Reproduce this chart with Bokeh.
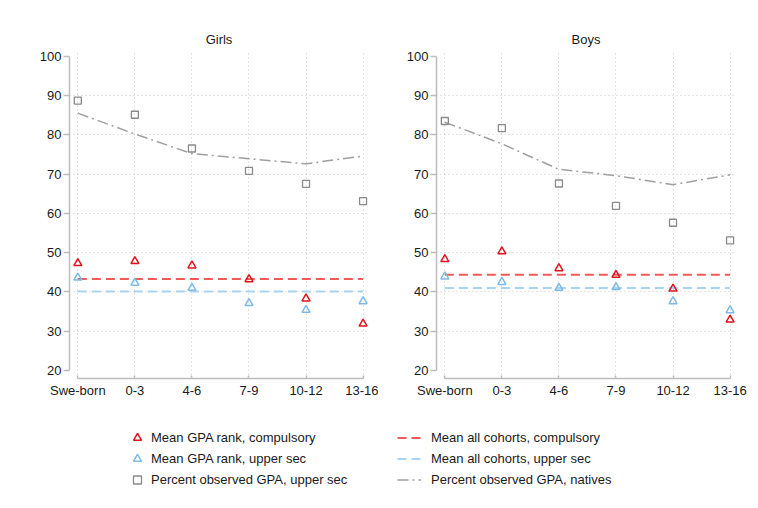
import numpy as np
from bokeh.plotting import figure
from bokeh.models import FixedTicker, Legend, LegendItem, Range1d, ColumnDataSource
from bokeh.layouts import row, column
from bokeh.embed import file_html
from bokeh.resources import INLINE

cohorts = ["Swe-born", "0-3", "4-6", "7-9", "10-12", "13-16"]
y_ticks = [20, 30, 40, 50, 60, 70, 80, 90, 100]

girls_rank_comp = [47.3, 47.8, 46.7, 43.2, 38.3, 31.9]
girls_rank_upper = [43.6, 42.3, 41.0, 37.1, 35.4, 37.6]
girls_pct_obs = [88.7, 85.1, 76.5, 70.8, 67.5, 63.1]
girls_pct_natives = [85.5, 80.2, 75.2, 73.9, 72.6, 74.6]
girls_mean_comp = 43.3
girls_mean_upper = 40.1

boys_rank_comp = [48.3, 50.3, 46.0, 44.3, 40.8, 32.9]
boys_rank_upper = [43.9, 42.5, 41.0, 41.2, 37.6, 35.3]
boys_pct_obs = [83.5, 81.7, 67.6, 61.9, 57.6, 53.1]
boys_pct_natives = [83.2, 77.7, 71.2, 69.6, 67.3, 69.8]
boys_mean_comp = 44.4
boys_mean_upper = 41.0

RED = "#e0141e"
BLUE = "#7dbbe6"
GRAY = "#8a8a8a"
RED_LINE = "#f25a5a"
BLUE_LINE = "#a8d4f0"
GRAY_LINE = "#a0a0a0"
FONT = "Liberation Sans"
TXT = "#1a1a1a"
AXC = "#bdbdbd"

xs = list(range(len(cohorts)))


def panel(title, comp, upper, obs, natives, mcomp, mupper, width, bl, br):
    p = figure(width=width, height=405, output_backend="svg", toolbar_location=None,
               x_range=Range1d(-0.146, 5.095), y_range=Range1d(17.96, 101.45),
               min_border_left=bl, min_border_right=br, min_border_top=50,
               min_border_bottom=27, title=title)
    p.outline_line_color = None
    p.title.align = "center"
    p.title.text_font = FONT
    p.title.text_font_size = "13px"
    p.title.text_font_style = "normal"
    p.title.text_color = TXT
    p.title.standoff = 7

    p.xaxis.ticker = FixedTicker(ticks=xs)
    p.xaxis.major_label_overrides = {i: c for i, c in enumerate(cohorts)}
    p.xaxis.bounds = (0, 5)
    p.xaxis.major_tick_in = 3
    p.xaxis.major_tick_out = 0
    p.xaxis.major_label_standoff = 4
    p.yaxis.ticker = FixedTicker(ticks=y_ticks)
    p.yaxis.bounds = (20, 100)
    p.yaxis.major_tick_in = 0
    p.yaxis.major_tick_out = 6
    p.yaxis.major_label_standoff = 2
    for ax in (p.xaxis, p.yaxis):
        ax.axis_line_color = AXC
        ax.axis_line_width = 1.5
        ax.major_tick_line_color = AXC
        ax.major_tick_line_width = 1.5
        ax.minor_tick_line_color = None
        ax.major_label_text_font = FONT
        ax.major_label_text_font_size = "13px"
        ax.major_label_text_color = TXT

    p.xgrid.ticker = FixedTicker(ticks=xs)
    p.ygrid.ticker = FixedTicker(ticks=y_ticks[1:-1])
    for g in (p.xgrid, p.ygrid):
        g.grid_line_color = "#c8c8c8"
        g.grid_line_dash = "1 3"
        g.grid_line_width = 1

    p.line(xs, natives, line_color=GRAY_LINE, line_width=1.5, line_dash="11 4 2 4")
    p.line(xs, [mcomp] * len(xs), line_color=RED_LINE, line_width=2, line_dash="9 5")
    p.line(xs, [mupper] * len(xs), line_color=BLUE_LINE, line_width=2, line_dash="9 5")
    p.scatter(xs, obs, marker="square", size=7, fill_color=None, line_color=GRAY, line_width=1.3)
    p.scatter(xs, upper, marker="triangle", size=8, fill_color=None, line_color=BLUE, line_width=1.5)
    p.scatter(xs, comp, marker="triangle", size=8, fill_color=None, line_color=RED, line_width=1.5)
    return p


pg = panel("Girls", girls_rank_comp, girls_rank_upper, girls_pct_obs, girls_pct_natives,
           girls_mean_comp, girls_mean_upper, 378, 69, 10)
pb = panel("Boys", boys_rank_comp, boys_rank_upper, boys_pct_obs, boys_pct_natives,
           boys_mean_comp, boys_mean_upper, 372, 58, 15)

lf = figure(width=750, height=95, output_backend="svg", toolbar_location=None,
            x_range=Range1d(0, 1), y_range=Range1d(0, 1),
            min_border=0, min_border_left=0, min_border_right=0,
            min_border_top=0, min_border_bottom=0)
lf.outline_line_color = None
lf.xaxis.visible = False
lf.yaxis.visible = False
lf.grid.visible = False
# legend-only renderers, placed outside the visible range
dummy = ColumnDataSource(data=dict(x=[-5, -4], y=[-5, -4]))
r1 = lf.scatter("x", "y", source=dummy, marker="triangle", size=8, fill_color=None, line_color=RED, line_width=1.5)
r2 = lf.scatter("x", "y", source=dummy, marker="triangle", size=8, fill_color=None, line_color=BLUE, line_width=1.5)
r3 = lf.scatter("x", "y", source=dummy, marker="square", size=7, fill_color=None, line_color=GRAY, line_width=1.3)
r4 = lf.line("x", "y", source=dummy, line_color=RED_LINE, line_width=2, line_dash="9 5")
r5 = lf.line("x", "y", source=dummy, line_color=BLUE_LINE, line_width=2, line_dash="9 5")
r6 = lf.line("x", "y", source=dummy, line_color=GRAY_LINE, line_width=1.5, line_dash="11 4 2 4")


def mk_legend(items, loc, gw, standoff):
    lg = Legend(items=items, location=loc, orientation="vertical",
                glyph_width=gw, glyph_height=21, label_height=21, spacing=0,
                padding=0, margin=0, label_standoff=standoff,
                border_line_color=None, background_fill_alpha=0,
                label_text_font=FONT, label_text_font_size="13px", label_text_color=TXT)
    return lg


leg1 = mk_legend([LegendItem(label="Mean GPA rank, compulsory", renderers=[r1]),
                  LegendItem(label="Mean GPA rank, upper sec", renderers=[r2]),
                  LegendItem(label="Percent observed GPA, upper sec", renderers=[r3])],
                 (127, 10), 20, 4)
leg2 = mk_legend([LegendItem(label="Mean all cohorts, compulsory", renderers=[r4]),
                  LegendItem(label="Mean all cohorts, upper sec", renderers=[r5]),
                  LegendItem(label="Percent observed GPA, natives", renderers=[r6])],
                 (397, 10), 24, 10)
lf.add_layout(leg1, "center")
lf.add_layout(leg2, "center")

layout = column(row(pg, pb), lf)
open("out.html", "w").write(file_html(layout, INLINE))
